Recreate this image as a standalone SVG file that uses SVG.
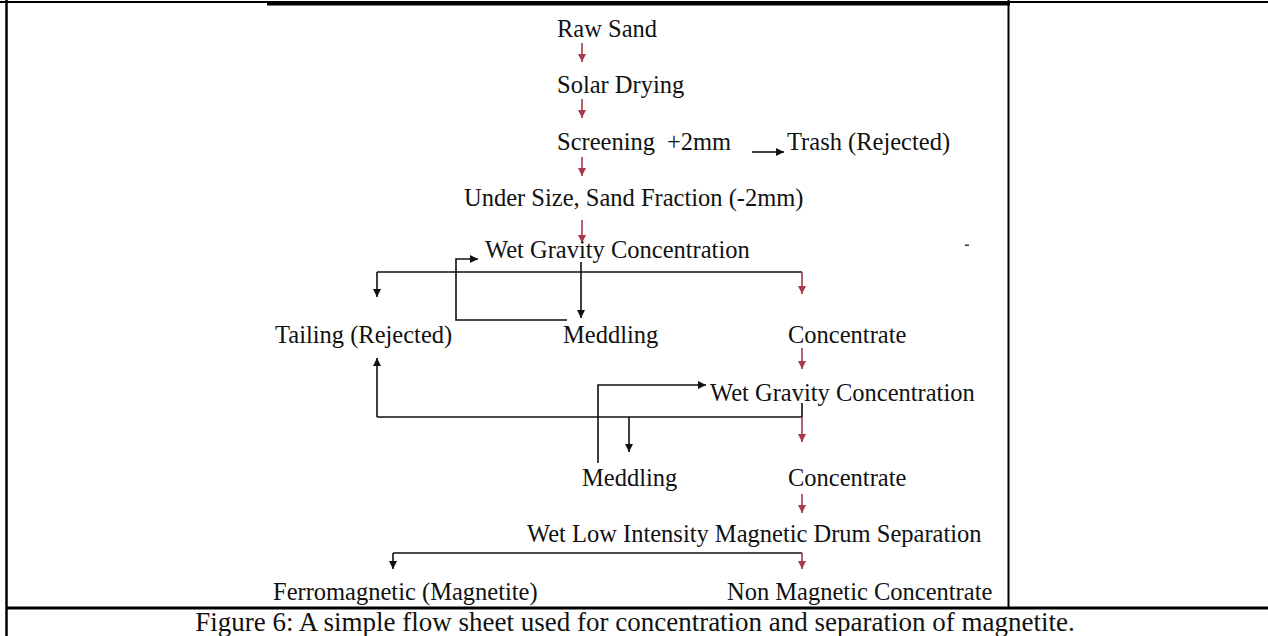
<svg xmlns="http://www.w3.org/2000/svg" width="1268" height="636" viewBox="0 0 1268 636">
<style>
text{font-family:"Liberation Serif","Times New Roman",serif;font-size:24.5px;fill:#111}
.cap{font-size:27px;text-anchor:middle}
.k{stroke:#111;stroke-width:1.6;fill:none}
.r{stroke:#a8384a;stroke-width:1.6;fill:none}
.frame{stroke:#000;fill:none}
</style>
<defs>
<marker id="ak" markerUnits="userSpaceOnUse" markerWidth="9" markerHeight="9" refX="8" refY="4" orient="auto"><path d="M0,0 L8,4 L0,8 z" fill="#111"/></marker>
<marker id="ar" markerUnits="userSpaceOnUse" markerWidth="9" markerHeight="9" refX="8" refY="4" orient="auto"><path d="M0,0 L8,4 L0,8 z" fill="#a8384a"/></marker>
</defs>
<rect width="1268" height="636" fill="#fff"/>
<g id="frame">
<line class="frame" x1="0" y1="2" x2="1268" y2="2" stroke-width="2"/>
<rect x="267" y="1" width="743" height="4.5" fill="#000"/>
<line class="frame" x1="6.5" y1="0" x2="6.5" y2="636" stroke-width="2.5"/>
<line class="frame" x1="1008.5" y1="0" x2="1008.5" y2="608" stroke-width="2"/>
<line class="frame" x1="6" y1="608" x2="1268" y2="608" stroke-width="3"/>
<rect x="965" y="244.5" width="4" height="1.5" fill="#333"/>
</g>
<g id="connectors">
<line class="r" x1="582" y1="43" x2="582" y2="62" marker-end="url(#ar)"/>
<line class="r" x1="582" y1="99" x2="582" y2="118" marker-end="url(#ar)"/>
<line class="r" x1="582" y1="157" x2="582" y2="176" marker-end="url(#ar)"/>
<line class="k" x1="752" y1="152" x2="784" y2="152" marker-end="url(#ak)"/>
<line class="r" x1="582" y1="220" x2="582" y2="243" marker-end="url(#ar)"/>
<polyline class="k" points="567,320 456,320 456,259 478,259" marker-end="url(#ak)"/>
<line class="k" x1="377" y1="272" x2="802" y2="272"/>
<line class="k" x1="377" y1="272" x2="377" y2="297" marker-end="url(#ak)"/>
<line class="k" x1="581" y1="262" x2="581" y2="318" marker-end="url(#ak)"/>
<line class="r" x1="802" y1="272" x2="802" y2="294" marker-end="url(#ar)"/>
<line class="r" x1="802" y1="348" x2="802" y2="369" marker-end="url(#ar)"/>
<polyline class="k" points="598,463 598,385 706,385" marker-end="url(#ak)"/>
<line class="k" x1="377" y1="417" x2="802" y2="417"/>
<line class="k" x1="377" y1="417" x2="377" y2="358" marker-end="url(#ak)"/>
<line class="k" x1="629" y1="417" x2="629" y2="452" marker-end="url(#ak)"/>
<line class="k" x1="802" y1="403" x2="802" y2="417"/>
<line class="r" x1="802" y1="417" x2="802" y2="442" marker-end="url(#ar)"/>
<line class="r" x1="802" y1="494" x2="802" y2="513" marker-end="url(#ar)"/>
<line class="k" x1="393" y1="553" x2="802" y2="553"/>
<line class="k" x1="393" y1="553" x2="393" y2="569" marker-end="url(#ak)"/>
<line class="r" x1="802" y1="553" x2="802" y2="569" marker-end="url(#ar)"/>
</g>
<g id="n-raw-sand"><text x="557" y="37">Raw Sand</text></g>
<g id="n-solar-drying"><text x="557" y="93">Solar Drying</text></g>
<g id="n-screening"><text x="557" y="150">Screening</text><text x="667" y="150">+2mm</text></g>
<g id="n-trash"><text x="787" y="150">Trash (Rejected)</text></g>
<g id="n-undersize"><text x="464" y="206">Under Size, Sand Fraction (-2mm)</text></g>
<g id="n-wgc1"><text x="485" y="258">Wet Gravity Concentration</text></g>
<g id="n-tailing"><text x="275" y="343">Tailing (Rejected)</text></g>
<g id="n-meddling1"><text x="563" y="343">Meddling</text></g>
<g id="n-concentrate1"><text x="788" y="343">Concentrate</text></g>
<g id="n-wgc2"><text x="710" y="401">Wet Gravity Concentration</text></g>
<g id="n-meddling2"><text x="582" y="486">Meddling</text></g>
<g id="n-concentrate2"><text x="788" y="486">Concentrate</text></g>
<g id="n-wlims"><text x="527" y="542">Wet Low Intensity Magnetic Drum Separation</text></g>
<g id="n-ferro"><text x="273" y="600">Ferromagnetic (Magnetite)</text></g>
<g id="n-nonmag"><text x="727" y="600">Non Magnetic Concentrate</text></g>
<g id="caption"><text class="cap" x="635" y="631">Figure 6: A simple flow sheet used for concentration and separation of magnetite.</text></g>
</svg>
